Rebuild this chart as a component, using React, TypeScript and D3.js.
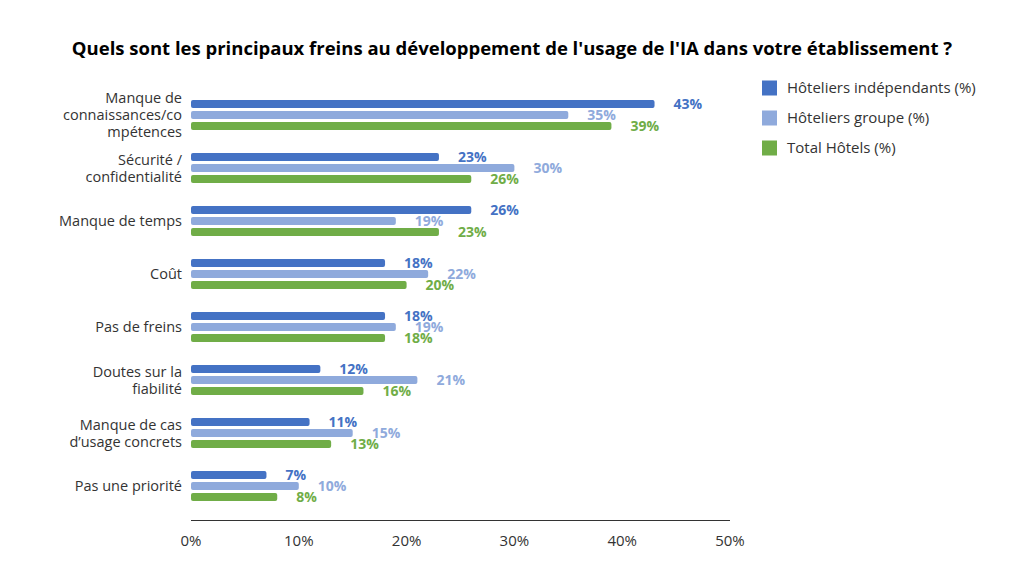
import React, { useEffect, useRef } from 'react';
import * as d3 from 'd3';

const categories = [
  ['Manque de', 'connaissances/co', 'mpétences'],
  ['Sécurité /', 'confidentialité'],
  ['Manque de temps'],
  ['Coût'],
  ['Pas de freins'],
  ['Doutes sur la', 'fiabilité'],
  ['Manque de cas', 'd’usage concrets'],
  ['Pas une priorité'],
];

const independants = [43, 23, 26, 18, 18, 12, 11, 7];
const groupe = [35, 30, 19, 22, 19, 21, 15, 10];
const total = [39, 26, 23, 20, 18, 16, 13, 8];

const seriesNames = ['Hôteliers indépendants (%)', 'Hôteliers groupe (%)', 'Total Hôtels (%)'];
const seriesColors = ['#4472c4', '#8faadc', '#70ad47'];
const xTicks = [0, 10, 20, 30, 40, 50];

const title = "Quels sont les principaux freins au développement de l'usage de l'IA dans votre établissement ?";

const App: React.FC = () => {
  const ref = useRef<SVGSVGElement>(null);

  useEffect(() => {
    const svg = d3.select(ref.current!);
    svg.selectAll('*').remove();

    const font = "'Open Sans', sans-serif";
    const x = d3.scaleLinear().domain([0, 50]).range([191, 730]);
    const y = d3
      .scaleBand<number>()
      .domain(d3.range(categories.length))
      .range([88.5, 512.5]);

    const series = [independants, groupe, total];
    const barH = 8;
    const pitch = 11;

    // title
    svg
      .append('text')
      .attr('x', 512)
      .attr('y', 55)
      .attr('text-anchor', 'middle')
      .attr('font-family', font)
      .attr('font-weight', 700)
      .attr('font-size', 18.5)
      .attr('fill', '#000')
      .text(title);

    // bars and labels
    series.forEach((vals, si) => {
      const g = svg.append('g');
      vals.forEach((v, i) => {
        const cy = y(i)! + y.bandwidth() / 2 + (si - 1) * pitch;
        g.append('rect')
          .attr('x', x(0))
          .attr('y', cy - barH / 2)
          .attr('width', x(v) - x(0))
          .attr('height', barH)
          .attr('rx', 2)
          .attr('fill', seriesColors[si]);
        g.append('text')
          .attr('x', x(v) + 19)
          .attr('y', cy)
          .attr('dy', '0.35em')
          .attr('font-family', font)
          .attr('font-weight', 700)
          .attr('font-size', 14)
          .attr('fill', seriesColors[si])
          .text(`${v}%`);
      });
    });

    // category labels
    categories.forEach((lines, i) => {
      const cy = y(i)! + y.bandwidth() / 2;
      const lh = 17;
      const t = svg
        .append('text')
        .attr('text-anchor', 'end')
        .attr('font-family', font)
        .attr('font-size', 14.5)
        .attr('fill', '#333');
      lines.forEach((line, li) => {
        t.append('tspan')
          .attr('x', 182)
          .attr('y', cy + (li - (lines.length - 1) / 2) * lh)
          .attr('dy', '0.35em')
          .text(line);
      });
    });

    // x axis
    svg
      .append('line')
      .attr('x1', x(0))
      .attr('x2', x(50))
      .attr('y1', 520.5)
      .attr('y2', 520.5)
      .attr('stroke', '#333')
      .attr('stroke-width', 1);

    svg
      .append('g')
      .selectAll('text')
      .data(xTicks)
      .enter()
      .append('text')
      .attr('x', (d) => x(d))
      .attr('y', 541)
      .attr('dy', '0.35em')
      .attr('text-anchor', 'middle')
      .attr('font-family', font)
      .attr('font-size', 15)
      .attr('fill', '#333')
      .text((d) => `${d}%`);

    // legend
    seriesNames.forEach((name, si) => {
      const ly = 88 + si * 30;
      svg
        .append('rect')
        .attr('x', 762)
        .attr('y', ly - 7.5)
        .attr('width', 15)
        .attr('height', 15)
        .attr('fill', seriesColors[si]);
      svg
        .append('text')
        .attr('x', 787)
        .attr('y', ly)
        .attr('dy', '0.35em')
        .attr('font-family', font)
        .attr('font-size', 15)
        .attr('fill', '#333')
        .text(name);
    });
  }, []);

  return (
    <svg
      ref={ref}
      width={1024}
      height={568}
      style={{ position: 'absolute', left: 0, top: 0, background: '#fff' }}
    />
  );
};

export default App;
